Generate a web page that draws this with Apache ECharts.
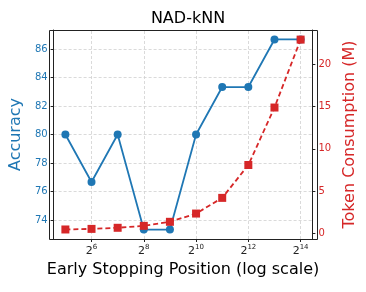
<!DOCTYPE html>
<html><head><meta charset="utf-8">
<script src="https://cdn.jsdelivr.net/npm/echarts@6/dist/echarts.min.js"></script>
<style>html,body{margin:0;padding:0;background:#fff}#c{width:366px;height:292px}</style>
</head><body><div id="c"></div>
<script>
// Early stopping positions as powers of two (exponents)
const exponents = [5, 6, 7, 8, 9, 10, 11, 12, 13, 14];
const accuracy = [80, 76.67, 80, 73.33, 73.33, 80, 83.33, 83.33, 86.67, 86.67];
const tokens = [0.43, 0.5, 0.63, 0.86, 1.34, 2.32, 4.18, 8.08, 14.9, 22.96];
const xTickExps = [6, 8, 10, 12, 14];

const BLUE = '#1f77b4', RED = '#d62728';
const F = 'DejaVu Sans';
const G = {left: 49, right: 49, top: 30, bottom: 53};
const W = 366, H = 292;
const chart = echarts.init(document.getElementById('c'), null, {renderer: 'canvas'});
chart.setOption({
  animation: false,
  textStyle: {fontFamily: F},
  title: {text: 'NAD-kNN', left: 183, top: 6, textAlign: 'center',
    textStyle: {fontFamily: F, fontSize: 16, fontWeight: 'normal', color: '#000'}},
  grid: {left: G.left, right: G.right, top: G.top, bottom: G.bottom, show: false},
  graphic: [{
    type: 'rect', z: 100, silent: true,
    shape: {x: G.left + 0.5, y: G.top + 0.5, width: W - G.left - G.right, height: H - G.top - G.bottom},
    style: {fill: null, stroke: '#222', lineWidth: 1}
  }],
  xAxis: {
    type: 'value', min: 4.55, max: 14.45,
    name: 'Early Stopping Position (log scale)', nameLocation: 'middle', nameGap: 23,
    nameTextStyle: {fontFamily: F, fontSize: 16, color: '#000'},
    axisLine: {show: true, onZero: false, lineStyle: {color: '#222'}},
    axisTick: {show: true, length: 3, lineStyle: {color: '#222'}, customValues: xTickExps},
    axisLabel: {
      customValues: xTickExps, margin: 5,
      formatter: v => '{b|2}{s|' + v + '}',
      rich: {b: {fontFamily: F, fontSize: 11, color: '#222'}, s: {fontFamily: F, fontSize: 7, color: '#222', padding: [0, 0, 8, 0]}}
    },
    splitLine: {show: false}
  },
  yAxis: [{
    type: 'value', min: 72.667, max: 87.333, splitNumber: 7, position: 'left',
    name: 'Accuracy', nameLocation: 'middle', nameGap: 26, nameRotate: 90,
    nameTextStyle: {fontFamily: F, fontSize: 16, color: BLUE},
    axisLine: {show: true, lineStyle: {color: '#222'}},
    axisTick: {show: true, length: 3, lineStyle: {color: '#222'}},
    axisLabel: {fontFamily: F, fontSize: 10, color: BLUE, margin: 6,
      formatter: v => (Math.abs(v - Math.round(v)) < 1e-6 && Math.round(v) % 2 === 0) ? String(Math.round(v)) : ''},
    splitLine: {show: true, showMinLine: false, showMaxLine: false, lineStyle: {color: '#d0d0d0', type: [3, 2], width: 0.8}}
  }, {
    type: 'value', min: -0.7, max: 24.1, position: 'right',
    name: 'Token Consumption (M)', nameLocation: 'middle', nameGap: 22, nameRotate: 90,
    nameTextStyle: {fontFamily: F, fontSize: 16, color: RED},
    axisLine: {show: true, lineStyle: {color: '#222'}},
    axisTick: {show: true, length: 3, lineStyle: {color: '#222'}},
    axisLabel: {fontFamily: F, fontSize: 10, color: RED, margin: 6,
      formatter: v => (Math.abs(v - Math.round(v)) < 1e-6 && Math.round(v) % 5 === 0) ? String(Math.round(v)) : ''},
    splitLine: {show: false}
  }],
  series: [{
    type: 'line', yAxisIndex: 0, z: 3,
    data: exponents.map((e, i) => [e, accuracy[i]]),
    symbol: 'circle', symbolSize: 8,
    lineStyle: {color: BLUE, width: 1.8}, itemStyle: {color: BLUE},
    markLine: {silent: true, symbol: 'none', label: {show: false},
      lineStyle: {color: '#d0d0d0', type: [3, 2], width: 0.8},
      data: xTickExps.map(e => ({xAxis: e})), z: 1}
  }, {
    type: 'line', yAxisIndex: 1, z: 4,
    data: exponents.map((e, i) => [e, tokens[i]]),
    symbol: 'rect', symbolSize: 8,
    lineStyle: {color: RED, width: 1.8, type: [5, 3]}, itemStyle: {color: RED}
  }]
});
</script></body></html>
